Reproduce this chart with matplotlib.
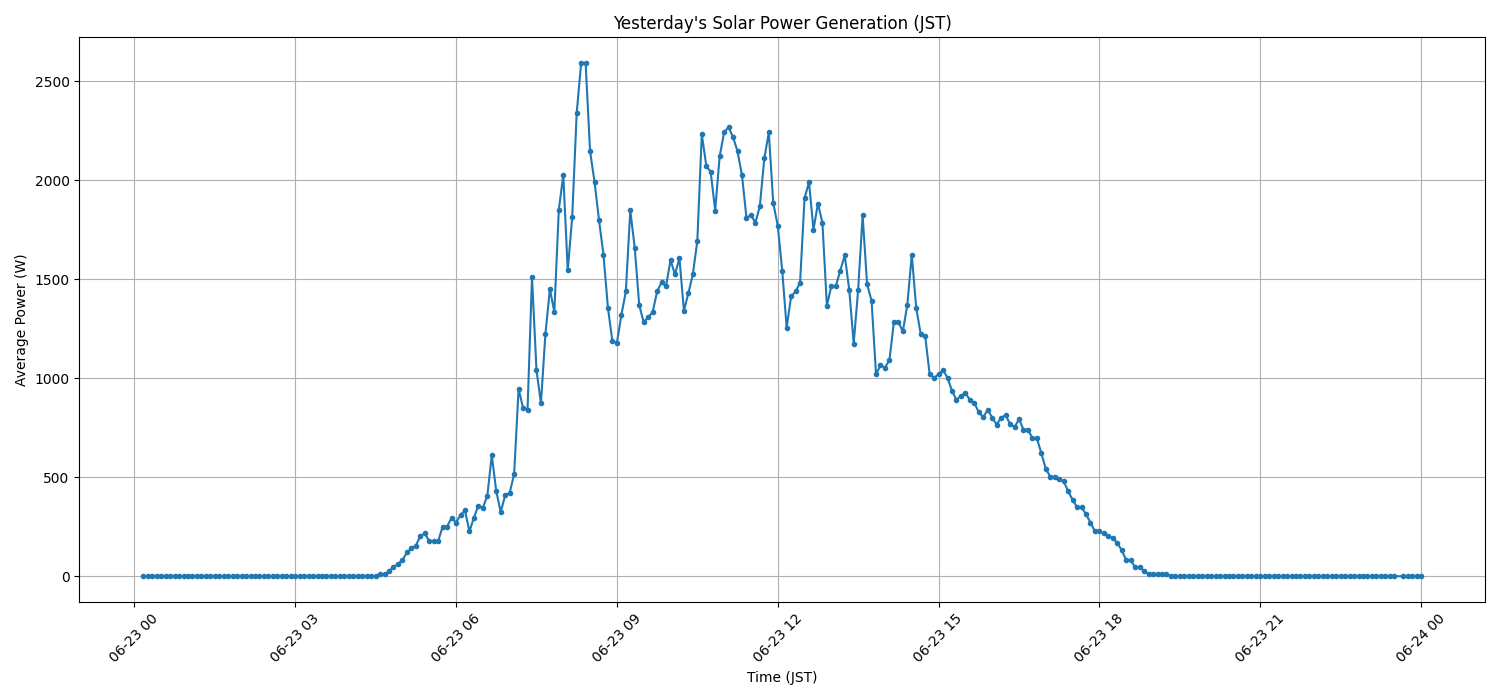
import matplotlib
matplotlib.use('Agg')
import matplotlib.pyplot as plt
import matplotlib.dates as mdates
import pandas as pd

# 5-minute timestamps (JST) for 2025-06-23, the 23:35 sample is missing
times = pd.date_range('2025-06-23 00:10', '2025-06-24 00:00', freq='5min')
missing = [pd.Timestamp('2025-06-23 23:35')]
times = times[~times.isin(missing)]

power_w = [
    # 00:10-00:55
    0, 0, 0, 0, 0, 0, 0, 0, 0, 0,
    # 01
    0, 0, 0, 0, 0, 0, 0, 0, 0, 0, 0, 0,
    # 02
    0, 0, 0, 0, 0, 0, 0, 0, 0, 0, 0, 0,
    # 03
    0, 0, 0, 0, 0, 0, 0, 0, 0, 0, 0, 0,
    # 04
    0, 0, 0, 0, 0, 0, 0, 10, 10, 25, 47, 61,
    # 05
    81, 120, 141, 155, 202, 216, 177, 177, 177, 251, 251, 296,
    # 06
    271, 310, 332, 226, 296, 357, 345, 407, 611, 429, 324, 409,
    # 07
    420, 516, 946, 850, 840, 1511, 1042, 873, 1223, 1451, 1334, 1850,
    # 08
    2027, 1545, 1814, 2339, 2592, 2592, 2146, 1991, 1798, 1623, 1354, 1187,
    # 09
    1178, 1318, 1438, 1848, 1657, 1369, 1283, 1308, 1333, 1438, 1485, 1465,
    # 10
    1596, 1525, 1606, 1342, 1429, 1525, 1692, 2232, 2074, 2040, 1847, 2120,
    # 11
    2242, 2268, 2217, 2146, 2024, 1811, 1823, 1786, 1869, 2111, 2241, 1884,
    # 12
    1771, 1544, 1256, 1414, 1438, 1483, 1909, 1990, 1751, 1882, 1786, 1367,
    # 13
    1465, 1465, 1544, 1620, 1448, 1175, 1448, 1822, 1475, 1391, 1020, 1066,
    # 14
    1054, 1091, 1285, 1285, 1236, 1370, 1623, 1354, 1224, 1214, 1020, 1003,
    # 15
    1020, 1040, 1003, 936, 891, 911, 926, 891, 875, 828, 803, 841,
    # 16
    801, 766, 801, 813, 769, 753, 793, 741, 741, 697, 697, 621,
    # 17
    542, 503, 503, 490, 480, 429, 386, 348, 348, 313, 271, 226,
    # 18
    226, 216, 203, 192, 168, 131, 81, 81, 45, 45, 27, 10,
    # 19
    10, 10, 10, 10, 0, 0, 0, 0, 0, 0, 0, 0,
    # 20
    0, 0, 0, 0, 0, 0, 0, 0, 0, 0, 0, 0,
    # 21
    0, 0, 0, 0, 0, 0, 0, 0, 0, 0, 0, 0,
    # 22
    0, 0, 0, 0, 0, 0, 0, 0, 0, 0, 0, 0,
    # 23 (23:35 missing) and 24:00
    0, 0, 0, 0, 0, 0, 0, 0, 0, 0, 0,
    0,
]

title = "Yesterday's Solar Power Generation (JST)"
xlabel = 'Time (JST)'
ylabel = 'Average Power (W)'

fig, ax = plt.subplots(figsize=(15, 7), dpi=100)
ax.plot(times, power_w, marker='o', markersize=3, linestyle='-', color='#1f77b4')
ax.set_title(title)
ax.set_xlabel(xlabel)
ax.set_ylabel(ylabel)
ax.grid(True)
ax.xaxis.set_major_locator(mdates.HourLocator(byhour=range(0, 24, 3)))
ax.xaxis.set_major_formatter(mdates.DateFormatter('%m-%d %H'))
plt.setp(ax.get_xticklabels(), rotation=45)
fig.tight_layout()
fig.savefig('out.png', dpi=100)
